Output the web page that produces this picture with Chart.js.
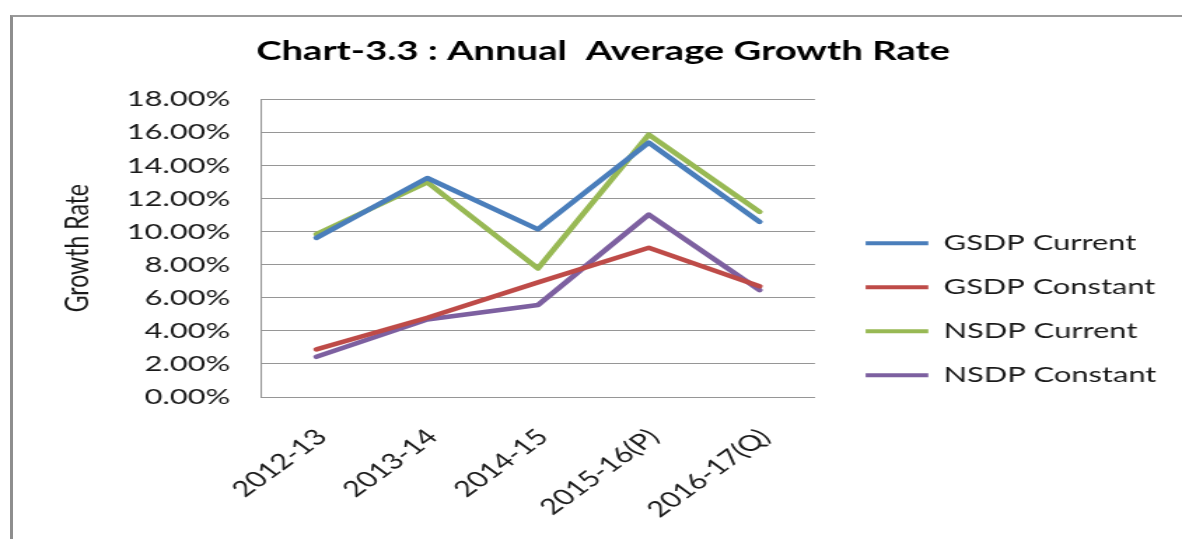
<!DOCTYPE html>
<html><head><meta charset="utf-8">
<script src="https://cdn.jsdelivr.net/npm/chart.js@4.4.1/dist/chart.umd.min.js"></script>
<style>
html,body{margin:0;padding:0;background:#fff;overflow:hidden;width:1182px;height:539px;}
#frame{position:absolute;left:10px;top:15px;width:1172px;height:524px;border-top:2px solid #9a9a9a;border-left:3px solid #8e8e8e;box-sizing:border-box;}
#wrap{position:absolute;left:0;top:0;width:844px;height:539px;transform:scaleX(1.40047);transform-origin:0 0;}
#c{display:block;width:844px;height:539px;}
</style></head><body>
<div id="frame"></div>
<div id="wrap"><canvas id="c" width="844" height="539"></canvas></div>
<script>
const chartTitle = 'Chart-3.3 : Annual  Average Growth Rate';
const yAxisTitle = 'Growth Rate';
const categories = ['2012-13', '2013-14', '2014-15', '2015-16(P)', '2016-17(Q)'];
const seriesNames = ['GSDP Current', 'GSDP Constant', 'NSDP Current', 'NSDP Constant'];
const gsdpCurrent = [9.62, 13.24, 10.14, 15.38, 10.59];
const gsdpConstant = [2.88, 4.79, 6.93, 9.02, 6.70];
const nsdpCurrent = [9.84, 12.98, 7.77, 15.86, 11.19];
const nsdpConstant = [2.43, 4.69, 5.56, 11.03, 6.46];
const yTickLabels = ['0.00%', '2.00%', '4.00%', '6.00%', '8.00%', '10.00%', '12.00%', '14.00%', '16.00%', '18.00%'];
const seriesColors = ['#4A7EBB', '#BE4B48', '#98B954', '#7D60A0'];

const FONT = 'Lato';
const textColor = '#1a1a1a';
const gridColor = '#969696';
const seriesData = [gsdpCurrent, gsdpConstant, nsdpCurrent, nsdpConstant];

const datasets = seriesNames.map((name, i) => ({
  label: name,
  data: seriesData[i],
  borderColor: seriesColors[i],
  backgroundColor: seriesColors[i],
  borderWidth: 4.5,
  pointRadius: 0,
  pointHoverRadius: 0,
  tension: 0,
  borderJoinStyle: 'round',
  borderCapStyle: 'round'
}));

const chart = new Chart(document.getElementById('c'), {
  type: 'line',
  data: { labels: categories, datasets: datasets },
  options: {
    responsive: false,
    devicePixelRatio: 1,
    animation: false,
    events: [],
    layout: { padding: { left: 25.5, right: 8.3, top: 10, bottom: 0 } },
    plugins: {
      tooltip: { enabled: false },
      title: {
        display: true,
        text: chartTitle,
        color: '#000',
        font: { family: FONT, size: 27.3, weight: 'bold' },
        padding: { top: 25.1, bottom: 31.4 }
      },
      legend: {
        position: 'right',
        align: 'start',
        fullSize: true,
        maxWidth: 400,
        title: { display: true, text: '', font: { size: 10 }, padding: { top: 188.3, bottom: 0 } },
        labels: {
          boxWidth: 44.7,
          boxHeight: 4,
          padding: 22,
          color: textColor,
          font: { family: FONT, size: 22 },
          generateLabels: (c) => Chart.defaults.plugins.legend.labels.generateLabels(c).map(it => {
            it.fillStyle = it.strokeStyle; it.lineWidth = 0; return it;
          })
        }
      }
    },
    scales: {
      x: {
        offset: true,
        grid: { display: false, drawTicks: false },
        border: { display: true, color: gridColor, width: 1 },
        ticks: {
          autoSkip: false, minRotation: 45, maxRotation: 45,
          padding: 27, labelOffset: 3.7,
          color: textColor, font: { family: FONT, size: 22 }
        },
        afterFit: (s) => { s.height = 142; }
      },
      y: {
        min: 0, max: 18,
        grid: { color: gridColor, lineWidth: 1, drawTicks: false },
        border: { display: true, color: gridColor, width: 1 },
        ticks: {
          stepSize: 2, padding: 22,
          color: textColor, font: { family: FONT, size: 22 },
          callback: (v, i) => yTickLabels[i]
        },
        title: {
          display: true, text: yAxisTitle, color: textColor,
          font: { family: FONT, size: 23 },
          padding: { top: 16.0, bottom: 0 }
        },
        afterFit: (s) => { s.width = 160.9; }
      },
      gap: {
        type: 'linear', position: 'right', display: true,
        grid: { display: false, drawTicks: false },
        border: { display: false },
        ticks: { display: false },
        afterFit: (s) => { s.width = 14.2; }
      }
    }
  }
});
</script>
</body></html>
